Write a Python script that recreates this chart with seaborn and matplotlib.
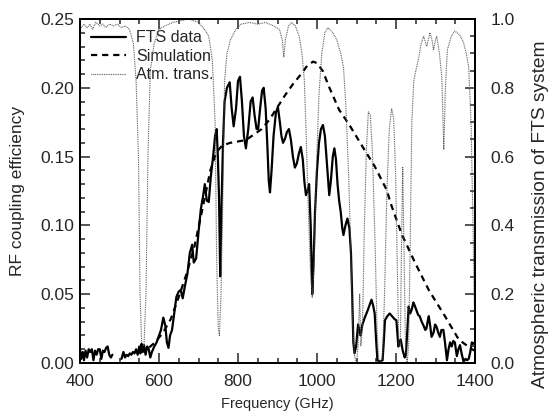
import numpy as np
import pandas as pd
import matplotlib
matplotlib.use("Agg")
import matplotlib.pyplot as plt
import seaborn as sns
from matplotlib.lines import Line2D
from matplotlib.ticker import MultipleLocator

# ---------------- data ----------------
fts_freq = [400, 403, 407, 410, 414, 418, 422, 426, 430, 434, 438, 442, 446, 450, 454, 458, 462, 466, 470, 474,
            478, 482, 485, 505, 510, 514, 518, 522, 526, 530, 534, 538, 542, 546, 550, 553, 556, 559, 562, 566,
            570, 574, 578, 582, 588, 594, 600, 605, 611, 616, 620, 624, 628, 633, 638, 644, 650, 655, 660, 665,
            672, 678, 684, 688, 694, 700, 706, 712, 716, 721, 726, 731, 737, 742, 746, 749, 752, 755, 758, 762,
            766, 772, 779, 784, 789, 795, 800, 805, 810, 815, 820, 826, 832, 837, 842, 847, 851, 856, 861, 865,
            870, 874, 878, 881, 885, 890, 896, 901, 906, 910, 914, 919, 924, 929, 934, 939, 944, 949, 954, 959,
            964, 968, 972, 976, 980, 984, 988, 991, 995, 1000, 1005, 1010, 1015, 1020, 1025, 1029, 1031, 1035,
            1040, 1044, 1048, 1052, 1056, 1060, 1064, 1067, 1072, 1077, 1082, 1086, 1089, 1092, 1095, 1099,
            1104, 1110, 1115, 1121, 1128, 1133, 1138, 1142, 1146, 1150, 1153, 1160, 1166, 1169, 1172, 1178,
            1184, 1190, 1196, 1201, 1204, 1206, 1209, 1212, 1217, 1222, 1225, 1229, 1232, 1236, 1240, 1244,
            1247, 1252, 1256, 1260, 1265, 1270, 1274, 1277, 1280, 1283, 1287, 1290, 1295, 1299, 1303, 1307,
            1311, 1315, 1320, 1324, 1329, 1333, 1337, 1341, 1345, 1349, 1352, 1354, 1358, 1362, 1366, 1371,
            1376, 1380, 1384, 1388, 1392, 1396, 1400]
fts_eff = [0.010, 0.003, 0.008, 0.002, 0.009, 0.004, 0.010, 0.008, 0.010, 0.002, 0.009, 0.006, 0.010, 0.010,
           0.003, 0.009, 0.008, 0.011, 0.012, 0.006, 0.004, 0.006, np.nan, 0.003, 0.008, 0.004, 0.006, 0.005,
           0.007, 0.006, 0.008, 0.007, 0.010, 0.006, 0.012, 0.007, 0.014, 0.008, 0.013, 0.006, 0.012, 0.010,
           0.004, 0.008, 0.012, 0.015, 0.020, 0.024, 0.033, 0.027, 0.015, 0.011, 0.020, 0.024, 0.035, 0.048,
           0.052, 0.053, 0.047, 0.055, 0.065, 0.080, 0.086, 0.073, 0.076, 0.095, 0.112, 0.122, 0.130, 0.118,
           0.117, 0.135, 0.150, 0.165, 0.170, 0.150, 0.120, 0.063, 0.110, 0.160, 0.190, 0.200, 0.204, 0.185,
           0.172, 0.185, 0.205, 0.208, 0.190, 0.165, 0.156, 0.170, 0.190, 0.193, 0.180, 0.170, 0.170, 0.185,
           0.198, 0.200, 0.185, 0.160, 0.132, 0.124, 0.140, 0.165, 0.182, 0.186, 0.175, 0.165, 0.160, 0.163,
           0.168, 0.170, 0.162, 0.150, 0.142, 0.145, 0.152, 0.157, 0.148, 0.132, 0.122, 0.125, 0.130, 0.100,
           0.050, 0.070, 0.110, 0.140, 0.160, 0.170, 0.173, 0.165, 0.145, 0.128, 0.122, 0.132, 0.150, 0.156,
           0.148, 0.130, 0.118, 0.110, 0.098, 0.093, 0.100, 0.105, 0.098, 0.080, 0.050, 0.015, 0.007, 0.012,
           0.028, 0.020, 0.028, 0.033, 0.038, 0.042, 0.046, 0.042, 0.036, 0.015, 0.002, 0.001, 0.002, 0.015,
           0.031, 0.034, 0.036, 0.034, 0.032, 0.031, 0.020, 0.012, 0.016, 0.017, 0.009, 0.004, 0.006, 0.025,
           0.041, 0.036, 0.039, 0.044, 0.042, 0.038, 0.035, 0.034, 0.030, 0.027, 0.024, 0.025, 0.030, 0.034,
           0.026, 0.019, 0.022, 0.028, 0.026, 0.022, 0.019, 0.024, 0.024, 0.015, 0.002, 0.010, 0.015, 0.012,
           0.016, 0.015, 0.009, 0.005, 0.010, 0.013, 0.007, 0.001, 0.003, 0.002, 0.003, 0.008, 0.015, 0.014,
           0.015]

sim_freq = [550, 570, 590, 610, 630, 650, 670, 690, 710, 730, 745, 760, 780, 800, 820, 840, 860, 880, 900,
            920, 940, 960, 975, 990, 1000, 1015, 1030, 1056, 1082, 1120, 1146, 1176, 1189, 1214, 1248, 1283,
            1324, 1359, 1392, 1400]
sim_eff = [0.008, 0.010, 0.015, 0.022, 0.032, 0.048, 0.065, 0.085, 0.112, 0.140, 0.153, 0.158, 0.160, 0.161,
           0.162, 0.166, 0.170, 0.177, 0.186, 0.195, 0.203, 0.210, 0.216, 0.219, 0.218, 0.212, 0.201, 0.184,
           0.173, 0.155, 0.143, 0.126, 0.114, 0.094, 0.073, 0.053, 0.034, 0.017, 0.010, 0.009]

atm_freq = [400, 410, 418, 425, 432, 440, 450, 458, 465, 475, 485, 495, 505, 515, 525, 535, 542, 548, 552,
            556, 562, 567, 572, 578, 588, 600, 615, 635, 655, 675, 700, 715, 726, 735, 742, 746, 750, 753,
            757, 762, 766, 772, 781, 795, 807, 830, 850, 870, 890, 905, 912, 916, 920, 928, 935, 945, 955,
            962, 968, 973, 978, 983, 988, 993, 998, 1005, 1012, 1020, 1028, 1040, 1050, 1060, 1067, 1073,
            1080, 1085, 1090, 1095, 1100, 1104, 1108, 1111, 1115, 1120, 1125, 1130, 1135, 1140, 1147, 1152,
            1156, 1162, 1166, 1171, 1177, 1183, 1189, 1194, 1199, 1203, 1207, 1211, 1214, 1217, 1220, 1224,
            1228, 1232, 1236, 1240, 1245, 1252, 1258, 1264, 1270, 1278, 1286, 1291, 1295, 1300, 1303, 1310,
            1316, 1321, 1325, 1330, 1340, 1349, 1360, 1370, 1378, 1384, 1390, 1395, 1400]
atm_trans = [0.97, 0.985, 0.975, 0.985, 0.97, 0.99, 0.98, 0.985, 0.975, 0.985, 0.98, 0.985, 0.975, 0.98,
             0.97, 0.93, 0.82, 0.60, 0.20, 0.06, 0.05, 0.20, 0.60, 0.85, 0.93, 0.97, 0.98, 0.99, 0.995, 1.00,
             0.99, 0.97, 0.95, 0.88, 0.70, 0.30, 0.10, 0.08, 0.20, 0.50, 0.82, 0.90, 0.94, 0.97, 0.985, 0.99,
             0.985, 0.99, 0.98, 0.97, 0.94, 0.89, 0.94, 0.98, 0.99, 0.98, 0.95, 0.90, 0.82, 0.65, 0.45, 0.28,
             0.19, 0.30, 0.55, 0.78, 0.90, 0.96, 0.975, 0.96, 0.94, 0.90, 0.86, 0.75, 0.55, 0.35, 0.12, 0.02,
             0.00, 0.05, 0.20, 0.05, 0.10, 0.40, 0.62, 0.73, 0.72, 0.62, 0.35, 0.10, 0.01, 0.00, 0.02, 0.20,
             0.50, 0.68, 0.74, 0.71, 0.55, 0.30, 0.05, 0.05, 0.35, 0.57, 0.35, 0.05, 0.00, 0.05, 0.35, 0.70,
             0.82, 0.86, 0.89, 0.93, 0.95, 0.92, 0.96, 0.94, 0.91, 0.94, 0.95, 0.90, 0.83, 0.62, 0.80, 0.91,
             0.95, 0.965, 0.955, 0.935, 0.90, 0.86, 0.70, 0.40, 0.05]

legend_labels = ["FTS data", "Simulation", "Atm. trans."]
x_label = "Frequency (GHz)"
y_label_left = "RF coupling efficiency"
y_label_right = "Atmospheric transmission of FTS system"

# ---------------- plotting ----------------
sns.set_style("ticks")
plt.rcParams["font.family"] = ["Liberation Sans", "DejaVu Sans"]

fig = plt.figure(figsize=(5.49, 4.15), dpi=100)
ax = fig.add_axes([80 / 549, 1 - 363 / 415, 395 / 549, 344 / 415])
ax2 = ax.twinx()

DASH = (0, (2.8, 2.2))
DOT = (0, (0.8, 0.8))

# FTS data, split at the gap
fts = pd.DataFrame({"freq": fts_freq, "eff": fts_eff})
fts["seg"] = fts["eff"].isna().cumsum()
fts = fts.dropna()
sns.lineplot(data=fts, x="freq", y="eff", units="seg", estimator=None, sort=False,
             color="black", lw=1.6, ax=ax)

sim = pd.DataFrame({"freq": sim_freq, "eff": sim_eff})
sns.lineplot(data=sim, x="freq", y="eff", color="black", lw=1.6, ax=ax, linestyle=DASH)

atm = pd.DataFrame({"freq": atm_freq, "trans": atm_trans})
sns.lineplot(data=atm, x="freq", y="trans", color="#555555", lw=0.8, ax=ax2, linestyle=DOT)

ax.set_xlim(400, 1400)
ax.set_ylim(0, 0.25)
ax2.set_ylim(0, 1.0)

ax.xaxis.set_major_locator(MultipleLocator(200))
ax.xaxis.set_minor_locator(MultipleLocator(50))
ax.yaxis.set_major_locator(MultipleLocator(0.05))
ax.yaxis.set_minor_locator(MultipleLocator(0.01))
ax2.yaxis.set_major_locator(MultipleLocator(0.2))
ax2.yaxis.set_minor_locator(MultipleLocator(0.05))
ax.set_yticklabels([f"{v:.2f}" for v in ax.get_yticks()])
ax2.set_yticklabels([f"{v:.1f}" for v in ax2.get_yticks()])

TS = 12.5
ax.tick_params(axis="both", which="both", direction="in", top=True, labelsize=TS, width=1.1)
ax.tick_params(axis="both", which="major", length=7)
ax.tick_params(axis="both", which="minor", length=3.5)
ax.tick_params(axis="x", pad=8)
ax.tick_params(axis="y", pad=4)
ax2.tick_params(axis="y", which="both", direction="in", labelsize=TS, width=1.1)
ax2.tick_params(axis="y", which="major", length=7)
ax2.tick_params(axis="y", which="minor", length=3.5)
ax2.tick_params(axis="y", pad=11)

for a in (ax, ax2):
    for s in a.spines.values():
        s.set_linewidth(1.4)
        s.set_color("black")

ax.set_xlabel(x_label, fontsize=10.5)
ax.xaxis.set_label_coords(0.5, -0.098)
ax.set_ylabel(y_label_left, fontsize=12.5)
ax.yaxis.set_label_coords(-0.14, 0.5)
ax2.set_ylabel(y_label_right, fontsize=13.8)
ax2.yaxis.set_label_coords(1.145, 0.432)

handles = [Line2D([], [], color="black", lw=1.6),
           Line2D([], [], color="black", lw=1.6, linestyle=DASH),
           Line2D([], [], color="#555555", lw=0.8, linestyle=DOT)]
ax.legend(handles, legend_labels, loc="upper left", frameon=False, fontsize=11.5,
          handlelength=2.2, handletextpad=0.6, borderaxespad=0.3, labelspacing=0.22)

fig.savefig("out.png", dpi=100)
